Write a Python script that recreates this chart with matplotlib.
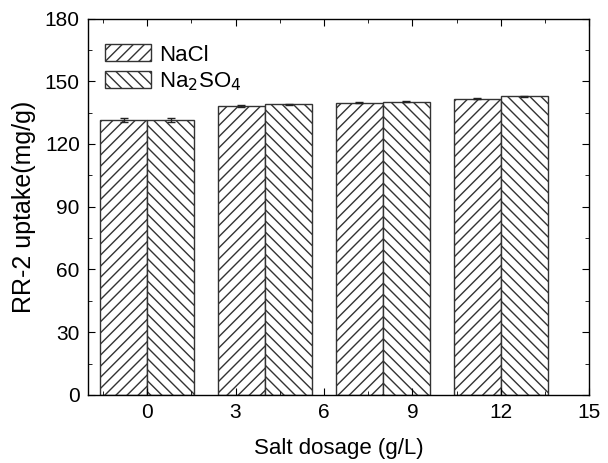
import numpy as np
import matplotlib.pyplot as plt
from matplotlib.ticker import MultipleLocator

plt.rcParams['font.family'] = ['Liberation Sans', 'DejaVu Sans']
plt.rcParams['hatch.linewidth'] = 1.0
plt.rcParams['hatch.color'] = '#333333'

# --- data ---
dosage = [0, 4, 8, 12]
nacl = [131.4, 138.2, 139.8, 141.7]
nacl_err = [1.0, 0.3, 0.3, 0.3]
na2so4 = [131.4, 139.0, 140.3, 142.8]
na2so4_err = [1.0, 0.3, 0.3, 0.3]

width = 1.6
x = np.array(dosage, dtype=float)

fig = plt.figure(figsize=(6.08, 4.63), dpi=100)
ax = fig.add_axes([0.145, 0.147, 0.824, 0.813])

ax.bar(x - width / 2, nacl, width, yerr=nacl_err, color='white', edgecolor='#333333',
       hatch='///', linewidth=1.0, label='NaCl',
       error_kw=dict(ecolor='#222222', elinewidth=1, capsize=3))
ax.bar(x + width / 2, na2so4, width, yerr=na2so4_err, color='white', edgecolor='#333333',
       hatch='\\\\\\', linewidth=1.0, label='Na$_2$SO$_4$',
       error_kw=dict(ecolor='#222222', elinewidth=1, capsize=3))

ax.set_xlim(-2, 15)
ax.set_ylim(0, 180)
ax.xaxis.set_major_locator(MultipleLocator(3))
ax.xaxis.set_minor_locator(MultipleLocator(1.5))
ax.yaxis.set_major_locator(MultipleLocator(30))
ax.yaxis.set_minor_locator(MultipleLocator(15))
ax.tick_params(which='both', direction='in', top=True, right=True, labelsize=15)
ax.tick_params(which='major', length=5, pad=6)
ax.tick_params(which='minor', length=3)
for s in ax.spines.values():
    s.set_linewidth(1.0)

ax.set_xlabel('Salt dosage (g/L)', fontsize=16, labelpad=11)
ax.set_ylabel('RR-2 uptake(mg/g)', fontsize=18, labelpad=6)

ax.legend(loc='upper left', frameon=False, fontsize=16, handlelength=2.1,
          handleheight=0.8, handletextpad=0.35, labelspacing=0.2,
          borderaxespad=0.0, bbox_to_anchor=(0.015, 0.955))

fig.savefig('out.png', dpi=100)
